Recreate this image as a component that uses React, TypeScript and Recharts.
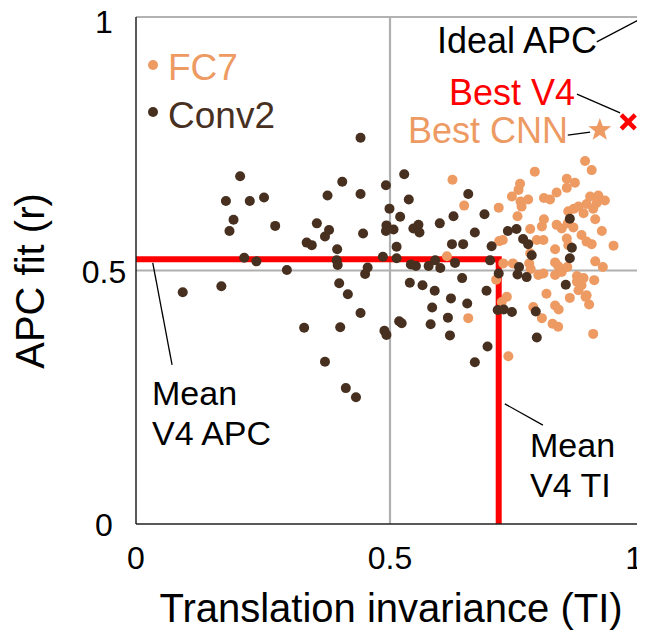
import {
  ScatterChart,
  Scatter,
  XAxis,
  YAxis,
  ReferenceLine,
  Customized,
} from "recharts";

const FONT = "'Liberation Sans', Arial, Helvetica, sans-serif";
const ORANGE = "#ED9A63";
const BROWN = "#47301F";

const xTicks = [0, 0.5, 1];
const yTicks = [0, 0.5, 1];

// [TI, APC fit]
const conv2Points = [
  [0.092, 0.457], [0.168, 0.469], [0.177, 0.637], [0.184, 0.578], [0.192, 0.6],
  [0.205, 0.686], [0.213, 0.525], [0.224, 0.637], [0.237, 0.518], [0.252, 0.644],
  [0.274, 0.588], [0.297, 0.501], [0.331, 0.387], [0.336, 0.555], [0.346, 0.55],
  [0.356, 0.593], [0.372, 0.567], [0.38, 0.58], [0.377, 0.648], [0.372, 0.32],
  [0.395, 0.52], [0.397, 0.511], [0.396, 0.542], [0.4, 0.475], [0.402, 0.388],
  [0.406, 0.675], [0.413, 0.268], [0.417, 0.453], [0.433, 0.25], [0.442, 0.762],
  [0.442, 0.651], [0.442, 0.416], [0.447, 0.573], [0.451, 0.493], [0.456, 0.506],
  [0.486, 0.527], [0.489, 0.381], [0.493, 0.373], [0.492, 0.668], [0.493, 0.589],
  [0.492, 0.578], [0.499, 0.622], [0.507, 0.581], [0.513, 0.547], [0.513, 0.524],
  [0.518, 0.4], [0.523, 0.396], [0.52, 0.606], [0.528, 0.69], [0.537, 0.64],
  [0.539, 0.476], [0.541, 0.512], [0.551, 0.509], [0.546, 0.583], [0.556, 0.59],
  [0.558, 0.575], [0.564, 0.471], [0.576, 0.509], [0.58, 0.394], [0.583, 0.427],
  [0.588, 0.46], [0.589, 0.52], [0.598, 0.593], [0.599, 0.505], [0.614, 0.407],
  [0.618, 0.372], [0.62, 0.445], [0.622, 0.552], [0.625, 0.607], [0.628, 0.515],
  [0.642, 0.485], [0.644, 0.552], [0.652, 0.435], [0.654, 0.651], [0.667, 0.575],
  [0.667, 0.319], [0.686, 0.611], [0.69, 0.46], [0.692, 0.35], [0.697, 0.52],
  [0.7, 0.548], [0.714, 0.494], [0.712, 0.422], [0.724, 0.423], [0.74, 0.418],
  [0.732, 0.578], [0.749, 0.582], [0.762, 0.562], [0.772, 0.552], [0.779, 0.53],
  [0.754, 0.507], [0.751, 0.492], [0.769, 0.487], [0.787, 0.419], [0.789, 0.368],
  [0.846, 0.472], [0.854, 0.602], [0.858, 0.545], [0.854, 0.524],
];

const fc7Points = [
  [0.612, 0.528], [0.623, 0.679], [0.646, 0.628], [0.654, 0.406], [0.714, 0.624],
  [0.715, 0.558], [0.709, 0.482], [0.722, 0.56], [0.742, 0.514], [0.723, 0.514],
  [0.73, 0.448], [0.72, 0.438], [0.733, 0.331], [0.74, 0.646], [0.751, 0.607],
  [0.753, 0.659], [0.756, 0.671], [0.757, 0.636], [0.759, 0.626], [0.772, 0.64],
  [0.776, 0.582], [0.776, 0.534], [0.774, 0.514], [0.777, 0.503], [0.782, 0.428],
  [0.785, 0.695], [0.789, 0.56], [0.792, 0.491], [0.799, 0.587], [0.799, 0.406],
  [0.802, 0.494], [0.802, 0.56], [0.803, 0.601], [0.803, 0.643], [0.808, 0.454],
  [0.815, 0.64], [0.82, 0.395], [0.825, 0.542], [0.825, 0.516], [0.825, 0.491],
  [0.828, 0.654], [0.828, 0.59], [0.831, 0.509], [0.831, 0.389], [0.825, 0.431],
  [0.832, 0.423], [0.838, 0.583], [0.838, 0.497], [0.848, 0.681], [0.848, 0.663],
  [0.848, 0.563], [0.849, 0.507], [0.85, 0.593], [0.851, 0.617], [0.851, 0.55],
  [0.854, 0.446], [0.861, 0.585], [0.862, 0.622], [0.864, 0.673], [0.868, 0.489],
  [0.868, 0.478], [0.871, 0.626], [0.871, 0.461], [0.877, 0.57], [0.877, 0.471],
  [0.881, 0.613], [0.881, 0.485], [0.884, 0.716], [0.885, 0.448], [0.887, 0.631],
  [0.887, 0.557], [0.887, 0.451], [0.892, 0.433], [0.894, 0.646], [0.897, 0.698],
  [0.897, 0.552], [0.9, 0.622], [0.9, 0.375], [0.902, 0.481], [0.904, 0.601],
  [0.904, 0.518], [0.907, 0.633], [0.91, 0.648], [0.917, 0.578], [0.919, 0.507],
  [0.923, 0.638], [0.94, 0.549],
];

const meanV4TI = 0.714;
const meanV4APC = 0.522;
const bestV4 = [{ x: 0.969, y: 0.793 }];
const bestCNN = [{ x: 0.913, y: 0.777 }];

const conv2Data = conv2Points.map(([x, y]) => ({ x, y }));
const fc7Data = fc7Points.map(([x, y]) => ({ x, y }));

const dot = (color) => (props) => (
  <circle cx={props.cx} cy={props.cy} r={5} fill={color} />
);

const xMark = (props) => {
  const { cx, cy } = props;
  const s = 7;
  return (
    <path
      d={`M${cx - s},${cy - s}L${cx + s},${cy + s}M${cx - s},${cy + s}L${cx + s},${cy - s}`}
      stroke="#FF0000"
      strokeWidth={4.5}
      fill="none"
    />
  );
};

const star = (props) => {
  const { cx, cy } = props;
  const pts = [];
  for (let i = 0; i < 10; i++) {
    const r = i % 2 === 0 ? 12 : 5;
    const a = -Math.PI / 2 + (i * Math.PI) / 5;
    pts.push(`${cx + r * Math.cos(a)},${cy + r * Math.sin(a)}`);
  }
  return <polygon points={pts.join(" ")} fill={ORANGE} />;
};

const fmt = (v) => (v === 0.5 ? "0.5" : String(v));

// last x tick sits on the right edge, so it is pulled inside
const XTick = ({ x, y, payload }) => (
  <text
    x={payload.value === 1 ? x - 1 : x}
    y={y + 43}
    textAnchor={payload.value === 1 ? "end" : "middle"}
    fontSize={32}
    fontFamily={FONT}
    fill="#000"
  >
    {fmt(payload.value)}
  </text>
);

const YTick = ({ y, payload }) => (
  <text
    x={96}
    y={y + (payload.value === 1 ? 16 : 12)}
    textAnchor="middle"
    fontSize={32}
    fontFamily={FONT}
    fill="#000"
  >
    {fmt(payload.value)}
  </text>
);

const Annotations = () => (
  <g fontFamily={FONT}>
    <circle cx={145} cy={57} r={5} fill={ORANGE} />
    <text x={160} y={72} fontSize={37} fill={ORANGE}>FC7</text>
    <circle cx={145} cy={104} r={5} fill={BROWN} />
    <text x={160} y={120} fontSize={37} fill={BROWN}>Conv2</text>
    <text x={589} y={45} fontSize={36} textAnchor="end" fill="#000">Ideal APC</text>
    <text x={567} y={97} fontSize={36} textAnchor="end" fill="#FF0000">Best V4</text>
    <text x={560} y={135} fontSize={36} textAnchor="end" fill={ORANGE}>Best CNN</text>
    <text x={144} y={397} fontSize={34} fill="#000">Mean</text>
    <text x={144} y={437} fontSize={34} fill="#000">V4 APC</text>
    <text x={522} y={449} fontSize={34} fill="#000">Mean</text>
    <text x={522} y={489} fontSize={34} fill="#000">V4 TI</text>
    <text x={383} y={614} fontSize={40} textAnchor="middle" fill="#000">
      Translation invariance (TI)
    </text>
    <text
      x={36}
      y={273}
      fontSize={40}
      textAnchor="middle"
      fill="#000"
      transform="rotate(-90, 36, 273)"
    >
      APC fit (r)
    </text>
  </g>
);

export default function App() {
  return (
    <ScatterChart
      width={637}
      height={631}
      margin={{ top: 9, right: 1, bottom: 0, left: 0 }}
    >
      <XAxis
        type="number"
        dataKey="x"
        domain={[0, 1]}
        ticks={xTicks}
        height={115}
        tickLine={false}
        tickSize={0}
        axisLine={{ stroke: "#222", strokeWidth: 1.5 }}
        tick={<XTick />}
        interval={0}
      />
      <YAxis
        type="number"
        dataKey="y"
        domain={[0, 1]}
        ticks={yTicks}
        width={128}
        tickLine={false}
        tickSize={0}
        axisLine={{ stroke: "#222", strokeWidth: 1.5 }}
        tick={<YTick />}
        interval={0}
      />
      <ReferenceLine y={1} stroke="#999" strokeWidth={1.5} />
      <ReferenceLine x={0.5} stroke="#B0B0B0" strokeWidth={2.2} />
      <ReferenceLine y={0.5} stroke="#B0B0B0" strokeWidth={2.2} />
      <ReferenceLine
        segment={[{ x: 0, y: meanV4APC }, { x: meanV4TI + 0.006, y: meanV4APC }]}
        stroke="#FF0000"
        strokeWidth={6}
      />
      <ReferenceLine
        segment={[{ x: meanV4TI, y: 0 }, { x: meanV4TI, y: meanV4APC }]}
        stroke="#FF0000"
        strokeWidth={6}
      />
      <ReferenceLine segment={[{ x: 0.907, y: 0.951 }, { x: 1, y: 1 }]} stroke="#000" strokeWidth={1.3} />
      <ReferenceLine segment={[{ x: 0.868, y: 0.848 }, { x: 0.953, y: 0.811 }]} stroke="#000" strokeWidth={1.3} />
      <ReferenceLine segment={[{ x: 0.85, y: 0.767 }, { x: 0.894, y: 0.773 }]} stroke="#000" strokeWidth={1.3} />
      <ReferenceLine segment={[{ x: 0.033, y: 0.515 }, { x: 0.071, y: 0.314 }]} stroke="#000" strokeWidth={1.3} />
      <ReferenceLine segment={[{ x: 0.726, y: 0.237 }, { x: 0.801, y: 0.195 }]} stroke="#000" strokeWidth={1.3} />
      <Scatter data={fc7Data} shape={dot(ORANGE)} isAnimationActive={false} />
      <Scatter data={conv2Data} shape={dot(BROWN)} isAnimationActive={false} />
      <Scatter data={bestCNN} shape={star} isAnimationActive={false} />
      <Scatter data={bestV4} shape={xMark} isAnimationActive={false} />
      <Customized component={Annotations} />
    </ScatterChart>
  );
}
